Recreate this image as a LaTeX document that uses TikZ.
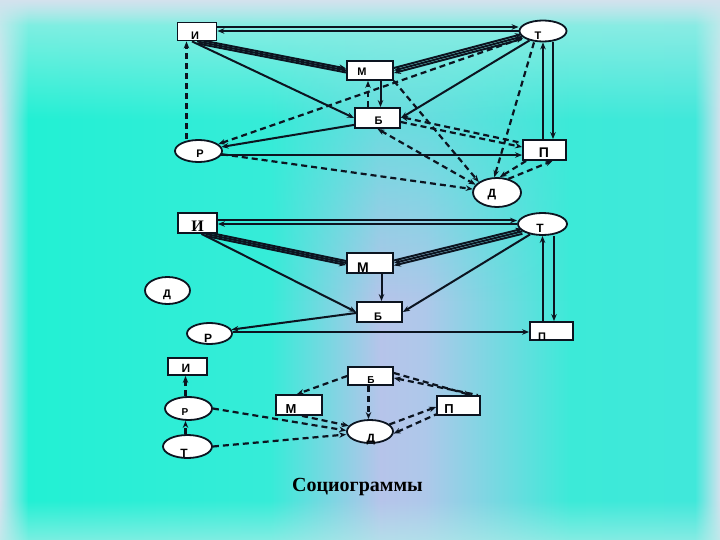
\documentclass[tikz,border=0pt]{standalone}
\usepackage{fontspec}
\setmainfont{Liberation Sans}
\newfontfamily\tmsfont{Liberation Serif}
\usetikzlibrary{arrows.meta,shapes.geometric,fadings}
\definecolor{ink}{HTML}{0C1420}
\definecolor{pale}{HTML}{D4E2EE}
\definecolor{paleC}{HTML}{B4EEEA}
\definecolor{cyA}{HTML}{22F0D4}
\definecolor{cyB}{HTML}{36ECD8}
\definecolor{lav}{HTML}{B6C4EA}
\definecolor{lavB}{HTML}{AEC8EA}
\definecolor{cyC}{HTML}{3CEAD8}
\definecolor{cyD}{HTML}{40E8DA}
\tikzfading[name=fadedown, top color=transparent!0, bottom color=transparent!100]
\tikzfading[name=fadeup, top color=transparent!100, bottom color=transparent!0]
\pgfdeclarelayer{back}
\pgfdeclarelayer{edges}
\pgfsetlayers{back,edges,main}
\newcommand\nlab[3]{\makebox[0pt]{\hspace*{#1}\raisebox{#2}[0pt][0pt]{#3}}}
\newcommand\fsz[1]{\fontsize{#1}{#1}\selectfont\bfseries}
\begin{document}
\begin{tikzpicture}[x=1pt,y=-1pt,
  bx/.style={draw=ink, fill=white, line width=1.8pt, rectangle, inner sep=0pt},
  el/.style={draw=ink, fill=white, line width=1.8pt, ellipse, inner sep=0pt},
  sl/.style={draw=ink, line width=2pt},
  dl/.style={draw=ink, line width=2.2pt, dash pattern=on 6pt off 4pt},
  >={Stealth[length=7pt,width=5.5pt]}]
\useasboundingbox (0,0) rectangle (720,540);
\begin{pgfonlayer}{back}
\shade[left color=pale, right color=cyA] (0,0) rectangle (28.5,540);
\shade[left color=cyA, right color=cyB] (28,0) rectangle (270.5,540);
\shade[left color=cyB, right color=lav] (270,0) rectangle (380.5,540);
\shade[left color=lav, right color=lavB] (380,0) rectangle (425.5,540);
\shade[left color=lavB, right color=cyC] (425,0) rectangle (570.5,540);
\shade[left color=cyC, right color=cyD] (570,0) rectangle (695.5,540);
\shade[left color=cyD, right color=pale] (695,0) rectangle (720,540);
\shade[left color=cyB, right color=cyC, path fading=fadedown] (270,0) rectangle (570,300);
\fill[paleC, opacity=0.8, path fading=fadedown] (0,0) rectangle (720,120);
\fill[pale, path fading=fadedown] (0,0) rectangle (720,25);
\fill[paleC, opacity=0.6, path fading=fadeup] (0,500) rectangle (720,540);
\end{pgfonlayer}

% ---------- diagram 1 ----------
\node[bx, minimum width=39pt, minimum height=18pt] (i1) at (197,31.5) {\nlab{-4pt}{-8.5pt}{\fsz{11}И}};
\node[el, minimum width=47pt, minimum height=21pt] (t1) at (543,31) {\nlab{-10pt}{-9pt}{\fsz{11}Т}};
\node[bx, minimum width=46pt, minimum height=19pt] (m1) at (370,70.5) {\nlab{-16pt}{-5.5pt}{\fsz{11}М}};
\node[bx, minimum width=45pt, minimum height=20pt] (b1) at (377.5,118) {\nlab{2pt}{-7pt}{\fsz{11}Б}};
\node[el, minimum width=47pt, minimum height=22pt] (r1) at (198.5,151) {\nlab{3pt}{-7pt}{\fsz{11}Р}};
\node[bx, minimum width=43pt, minimum height=20pt] (p1) at (544.5,150) {\nlab{-1pt}{-8pt}{\fsz{14}П}};
\node[el, minimum width=48pt, minimum height=29pt] (d1) at (497,192.5) {\nlab{-10pt}{-5.5pt}{\fsz{12}Д}};

% ---------- diagram 2 ----------
\node[bx, minimum width=39pt, minimum height=20pt] (i2) at (197.5,223) {\nlab{0pt}{-9pt}{\tmsfont\fsz{16}И}};
\node[el, minimum width=49pt, minimum height=22pt] (t2) at (542.5,224) {\nlab{-5pt}{-9pt}{\fsz{12}Т}};
\node[bx, minimum width=46pt, minimum height=20pt] (m2) at (370,263) {\nlab{-14pt}{-9pt}{\fsz{14}М}};
\node[el, minimum width=45pt, minimum height=27pt] (d2) at (167.5,290.5) {\nlab{-1pt}{-6.5pt}{\fsz{11}Д}};
\node[bx, minimum width=45pt, minimum height=20pt] (b2) at (379.5,312) {\nlab{-3pt}{-8pt}{\fsz{11}Б}};
\node[el, minimum width=45pt, minimum height=21pt] (r2) at (209.5,333.5) {\nlab{-3pt}{-8.5pt}{\fsz{12}Р}};
\node[bx, minimum width=43pt, minimum height=18pt] (p2) at (551.5,331) {\nlab{-19pt}{-9pt}{\fsz{11}П}};

% ---------- diagram 3 ----------
\node[bx, minimum width=39pt, minimum height=17pt] (i3) at (187.5,366.5) {\nlab{-3pt}{-5.5pt}{\fsz{12}И}};
\node[el, minimum width=47pt, minimum height=23pt] (r3) at (188.5,408.5) {\nlab{-7pt}{-6.5pt}{\fsz{10}Р}};
\node[el, minimum width=49pt, minimum height=23pt] (t3) at (187.5,446.5) {\nlab{-7pt}{-10.5pt}{\fsz{12}Т}};
\node[bx, minimum width=45pt, minimum height=18pt] (b3) at (370.5,376) {\nlab{1pt}{-7pt}{\fsz{10}Б}};
\node[bx, minimum width=46pt, minimum height=20pt] (m3) at (299,405) {\nlab{-16pt}{-8pt}{\fsz{13}М}};
\node[bx, minimum width=43pt, minimum height=19pt] (p3) at (458.5,405.5) {\nlab{-19pt}{-7.5pt}{\fsz{13}П}};
\node[el, minimum width=46pt, minimum height=23pt] (d3) at (370,431.5) {\nlab{2pt}{-10.5pt}{\fsz{12}Д}};

\node[anchor=base] (title) at (357.5,491) {\tmsfont\fontsize{20}{20}\selectfont\bfseries Социограммы};

\begin{pgfonlayer}{edges}
% diagram 1 solid
\draw[sl,->] ([yshift=4.5pt]i1.east) -- ([yshift=4.5pt]i1.east -| t1.west);
\draw[sl,<-] ([yshift=0.5pt]i1.east) -- ([yshift=0.5pt]i1.east -| t1.west);
\draw[sl,<-] ([yshift=-2pt]i1.south) -- ([yshift=-2pt]m1.west);
\draw[sl] (i1.south) -- (m1.west);
\draw[sl,->] ([yshift=2pt]i1.south) -- ([yshift=2pt]m1.west);
\draw[sl,->] ([yshift=2.5pt]m1.east) -- ([yshift=2.5pt]t1.195);
\draw[sl,->] (t1.195) -- (m1.east);
\draw[sl,->] ([yshift=-2.5pt]t1.195) -- ([yshift=-2.5pt]m1.east);
\draw[sl,->] ([xshift=-5pt]i1.south) -- (b1.west);
\draw[sl,->] (t1.215) -- (b1.east);
\draw[sl,->] ([xshift=10.5pt]m1.south) -- ([xshift=10.5pt]m1.south |- b1.north);
\draw[sl,->] ([yshift=4pt]b1.south west) -- (r1.10);
\draw[sl,->] (r1.-10) -- (r1.-10 -| p1.west);
\draw[sl,->] ([xshift=10pt]t1.south) -- ([xshift=10pt]t1.south |- p1.north);
\draw[sl,->] (t1.south |- p1.north) -- (t1.south);
% diagram 1 dashed
\draw[dl,->] ([xshift=-2pt]m1.south |- b1.north) -- ([xshift=-2pt]m1.south);
\draw[dl,->] ([xshift=-12pt]r1.north) -- ([xshift=-12pt]r1.north |- i1.south);
\draw[dl,<->] (r1) -- (t1);
\draw[dl,->] (r1) -- (d1);
\draw[dl,->] (m1.south east) -- (d1.150);
\draw[dl,<->] (b1.south) -- (d1.160);
\draw[dl,->] ([xshift=-9pt]t1.south) -- (d1.100);
\draw[dl,<-] ([yshift=1pt]b1.east) -- ([yshift=7pt]p1.west);
\draw[dl,->] ([yshift=-4pt]b1.east) -- ([yshift=3pt]p1.west);
\draw[dl,->] ([xshift=4pt]p1.south west) -- (d1.80);
\draw[dl,->] (d1.50) -- ([xshift=8pt]p1.south);

% diagram 2
\draw[sl,->] ([yshift=2.5pt]i2.east) -- ([yshift=2.5pt]i2.east -| t2.west);
\draw[sl,<-] ([yshift=-1pt]i2.east) -- ([yshift=-1pt]i2.east -| t2.west);
\draw[sl,<-] ([xshift=8pt,yshift=2pt]i2.south) -- ([yshift=2pt]m2.west);
\draw[sl] ([xshift=8pt]i2.south) -- (m2.west);
\draw[sl,->] ([xshift=8pt,yshift=-2pt]i2.south) -- ([yshift=-2pt]m2.west);
\draw[sl,->] ([yshift=2.5pt]m2.east) -- ([yshift=2.5pt]t2.200);
\draw[sl,->] (t2.200) -- (m2.east);
\draw[sl,->] ([yshift=-2.5pt]t2.200) -- ([yshift=-2.5pt]m2.east);
\draw[sl,->] ([xshift=4pt]i2.south) -- (b2.west);
\draw[sl,->] (t2.220) -- (b2.east);
\draw[sl,->] ([xshift=11.5pt]m2.south) -- ([xshift=11.5pt]m2.south |- b2.north);
\draw[sl,->] ([yshift=-1pt]b2.west) -- (r2.10);
\draw[sl,->] ([yshift=1.5pt]r2.east) -- ([yshift=1.5pt]r2.east -| p2.west);
\draw[sl,->] ([xshift=11.5pt]t2.south) -- ([xshift=11.5pt]t2.south |- p2.north);
\draw[sl,->] (t2.south |- p2.north) -- (t2.south);

% diagram 3
\draw[dl,->] ([xshift=-3pt]r3.north) -- ([xshift=-3pt]r3.north |- i3.south);
\draw[dl,->] ([xshift=-2pt]t3.north) -- ([xshift=-2pt]t3.north |- r3.south);
\draw[dl,->] (r3.east) -- ([yshift=1pt]d3.west);
\draw[dl,->] (t3.east) -- ([yshift=-3pt]d3.west);
\draw[dl,->] ([xshift=3pt]m3.south) -- (d3.165);
\draw[dl,->] (b3.west) -- ([xshift=-2pt]m3.north);
\draw[dl,->] ([xshift=-2pt]b3.south) -- ([xshift=-2pt]b3.south |- d3.north);
\draw[dl,->] ([yshift=3pt]b3.east) -- ([xshift=-10pt]p3.north east);
\draw[dl,<-] ([yshift=-2pt]b3.east) -- ([xshift=-3pt]p3.north east);
\draw[dl,->] (d3.20) -- ([yshift=-1.5pt]p3.west);
\draw[dl,<-] (d3.-5) -- ([yshift=1.5pt]p3.south west);
\end{pgfonlayer}
\end{tikzpicture}
\end{document}
